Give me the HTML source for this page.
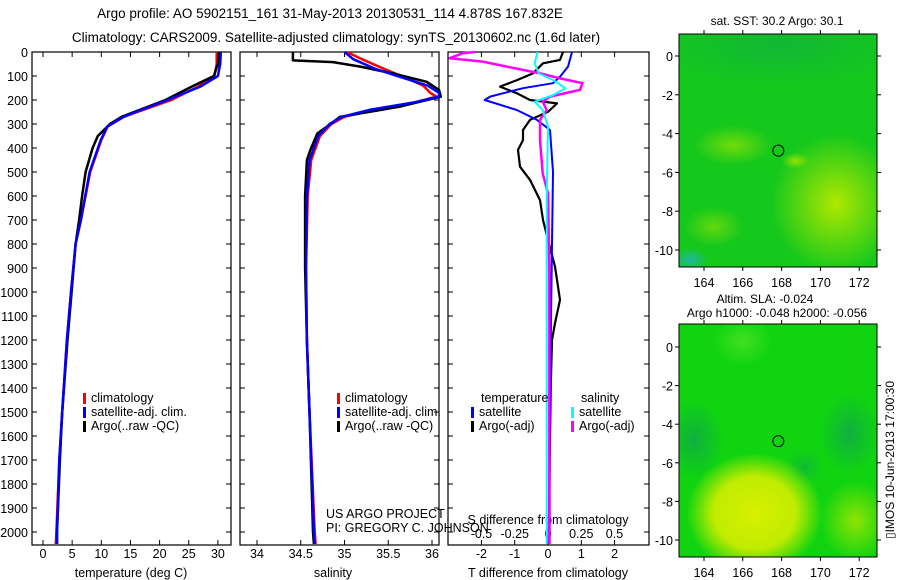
<!DOCTYPE html>
<html><head><meta charset="utf-8">
<style>
html,body{margin:0;padding:0;background:#fff;}
svg{display:block;font-family:"Liberation Sans",sans-serif;}
text{fill:#000;}
</style></head>
<body>
<svg id="chart" width="900" height="580" viewBox="0 0 900 580" xmlns="http://www.w3.org/2000/svg">
<defs>
<radialGradient id="yb1" cx="0.5" cy="0.5" r="0.5"><stop offset="0" stop-color="#d8f000"/><stop offset="0.6" stop-color="#c0ec00"/><stop offset="1" stop-color="#c0ec00" stop-opacity="0"/></radialGradient>
<radialGradient id="yb2" cx="0.5" cy="0.5" r="0.5"><stop offset="0" stop-color="#b0e800"/><stop offset="1" stop-color="#b0e800" stop-opacity="0"/></radialGradient>
<radialGradient id="db" cx="0.5" cy="0.5" r="0.5"><stop offset="0" stop-color="#10b040"/><stop offset="1" stop-color="#10b040" stop-opacity="0"/></radialGradient>
<radialGradient id="lg" cx="0.5" cy="0.5" r="0.5"><stop offset="0" stop-color="#40e020"/><stop offset="1" stop-color="#40e020" stop-opacity="0"/></radialGradient>
<radialGradient id="tl" cx="0.5" cy="0.5" r="0.5"><stop offset="0" stop-color="#20b8a0"/><stop offset="1" stop-color="#20b8a0" stop-opacity="0"/></radialGradient>
</defs>
<text x="330" y="18" font-size="13.5" text-anchor="middle">Argo profile: AO 5902151_161 31-May-2013 20130531_114 4.878S 167.832E</text>
<text x="336" y="42" font-size="13.5" text-anchor="middle">Climatology: CARS2009. Satellite-adjusted climatology: synTS_20130602.nc (1.6d later)</text>
<g id="g1"></g>
<g id="g2"></g>
<g id="g3"></g>
<g id="m1"></g>
<g id="m2"></g>
<text transform="translate(894,460) rotate(-90)" font-size="12" text-anchor="middle">▯IMOS 10-Jun-2013 17:00:30</text>
</svg>
<script>
const tClimD = [0,50,100,144,200,270,311,367,500,700,800,1000,1200,1500,1700,2000,2050];
const tClim  = [29.8,29.8,29.4,26.6,22.0,13.9,11.1,10.0,8.1,6.5,5.6,4.8,4.1,3.3,2.8,2.3,2.2];
const tSat   = [30.5,30.4,30.0,27.0,21.3,13.8,11.0,9.9,8.0,6.5,5.6,4.8,4.1,3.3,2.8,2.4,2.4];
const tArgoD = [0,50,100,144,200,270,300,350,400,500,600,700,800,1000,1200,1500,1700,2000,2050];
const tArgo  = [30.2,30.0,29.3,25.5,21.0,13.5,11.5,9.4,8.5,7.3,6.7,6.2,5.6,4.9,4.2,3.3,2.9,2.4,2.4];

const sArgoD = [0,35,42,61,89,124,158,186,228,270,311,339,408,450,600,900,1200,1500,2000,2050];
const sArgo  = [34.41,34.41,34.87,35.18,35.55,35.94,36.08,36.1,35.63,34.95,34.8,34.69,34.61,34.57,34.55,34.55,34.57,34.6,34.64,34.65];
const sClimD = [0,30,70,100,140,170,186,210,240,270,300,350,450,600,900,1200,1500,2000,2050];
const sClim  = [35.03,35.2,35.45,35.65,35.9,35.98,36.05,35.8,35.35,35.0,34.85,34.72,34.62,34.58,34.56,34.57,34.6,34.66,34.67];
const sSat   = [35.0,35.1,35.35,35.6,35.95,36.08,36.08,35.8,35.3,34.97,34.83,34.7,34.6,34.57,34.56,34.57,34.6,34.65,34.66];

const dTSatD = [0,61,103,130,151,186,200,242,283,325,500,800,1200,1600,2050];
const dTSat  = [0.72,0.6,0.36,0.15,-0.75,-1.74,-1.9,-0.93,-0.33,0.06,0.15,0.12,0.08,0.05,0.05];
const dTArgoD= [0,33,47,89,117,144,172,200,214,249,283,325,367,408,478,533,617,700,783,894,1033,1130,1200,1400,1700,2050];
const dTArgo = [0.45,0.36,-0.15,-0.45,-0.93,-1.44,-0.93,-0.54,0.27,0,-0.54,-0.75,-0.75,-0.9,-0.84,-0.54,-0.24,-0.15,0,0.21,0.36,0.21,0.12,0.08,0.05,0.02];
const dSSatD = [0,47,89,117,151,179,207,242,311,600,1200,2050];
const dSSat  = [-0.08,-0.1,-0.07,0.04,0.13,0.04,-0.1,-0.04,0,-0.01,-0.01,-0.01];
const dSArgoD= [0,5,26,40,61,89,110,130,158,186,207,242,283,367,506,590,900,1500,2050];
const dSArgo = [-0.55,-0.64,-0.74,-0.49,-0.31,-0.06,0.09,0.26,0.24,0.015,-0.04,-0.01,-0.06,-0.06,-0.04,0,0.01,0.01,0.01];

const depthTicks = [0,100,200,300,400,500,600,700,800,900,1000,1100,1200,1300,1400,1500,1600,1700,1800,1900,2000];
const tTicks = [0,5,10,15,20,25,30];
const sTicks = [34,34.5,35,35.5,36];
const sTickLabels = ["34","34.5","35","35.5","36"];
const dtTicks = [-2,-1,0,1,2];
const dsTicks = [-0.5,-0.25,0,0.25,0.5];
const dsTickLabels = ["-0.5","-0.25","0","0.25","0.5"];
const lonTicks = [164,166,168,170,172];
const latTicks = [0,-2,-4,-6,-8,-10];

const NS='http://www.w3.org/2000/svg';
function mk(tag,attrs,parent){const e=document.createElementNS(NS,tag);for(const k in attrs)e.setAttribute(k,attrs[k]);parent.appendChild(e);return e;}
const yD = d => 52 + d*0.24;
const xT = t => 43 + t*5.83;
const xS = s => 257 + (s-34)*87.5;
const xDT = v => 548 + v*33.3;
const xDS = v => 548 + v*133;

function frame(g,x0,x1,name){
  const r=mk('rect',{x:x0,y:52,width:x1-x0,height:493,fill:'none',stroke:'#000','stroke-width':1.2},g);
  
  
  depthTicks.forEach(d=>{
    mk('line',{x1:x0,x2:x0+5,y1:yD(d),y2:yD(d),stroke:'#000'},g);
    mk('line',{x1:x1,x2:x1-5,y1:yD(d),y2:yD(d),stroke:'#000'},g);
  });
}
function xticks(g,vals,labels,fx,y,lab){
  vals.forEach((v,i)=>{
    const x=fx(v);
    mk('line',{x1:x,x2:x,y1:545,y2:540,stroke:'#000'},g);
    mk('line',{x1:x,x2:x,y1:52,y2:57,stroke:'#000'},g);
    const t=mk('text',{x:x,y:y,'font-size':12.5,'text-anchor':'middle'},g);t.textContent=labels[i];
    
    
  });
}
function line(g,ds,vs,fx,color,w,name){
  const p=ds.map((d,i)=>(i?'L':'M')+fx(vs[i]).toFixed(1)+','+yD(d).toFixed(1)).join('');
  const e=mk('path',{d:p,fill:'none',stroke:color,'stroke-width':w,'stroke-linejoin':'round'},g);
  
  
}
function txt(g,x,y,s,name,size,anchor){
  const t=mk('text',{x:x,y:y,'font-size':size||12.5,'text-anchor':anchor||'start'},g);t.textContent=s;
  
  
  return t;
}
function legend(g,x,y,color,label,name){
  mk('rect',{x:x,y:y-9,width:3,height:11,fill:color},g);
  txt(g,x+8,y,label,name);
}

const g1=document.getElementById('g1');
frame(g1,32,231,'temperature-plot-area');
depthTicks.forEach(d=>txt(g1,28,yD(d)+5,String(d),'depth-tick-label',12.5,'end'));
xticks(g1,tTicks,tTicks.map(String),xT,558,'temperature-tick-label');
txt(g1,131,577,'temperature (deg C)','x-axis-title-temperature',12.5,'middle');
line(g1,tClimD,tClim,xT,'#f00',2.5,'temperature-climatology-line');
line(g1,tArgoD,tArgo,xT,'#000',2.5,'temperature-argo-line');
line(g1,tClimD,tSat,xT,'#00f',2.5,'temperature-satellite-line');
legend(g1,83,402,'#f00','climatology','legend-climatology');
legend(g1,83,416,'#00f','satellite-adj. clim.','legend-satellite-adj');
legend(g1,83,430,'#000','Argo(..raw -QC)','legend-argo');

const g2=document.getElementById('g2');
frame(g2,240,439,'salinity-plot-area');
xticks(g2,sTicks,sTickLabels,xS,558,'salinity-tick-label');
txt(g2,333,577,'salinity','x-axis-title-salinity',12.5,'middle');
line(g2,sClimD,sClim,xS,'#f00',2.5,'salinity-climatology-line');
line(g2,sArgoD,sArgo,xS,'#000',2.5,'salinity-argo-line');
line(g2,sClimD,sSat,xS,'#00f',2.5,'salinity-satellite-line');
legend(g2,337,402,'#f00','climatology','legend-climatology');
legend(g2,337,416,'#00f','satellite-adj. clim.','legend-satellite-adj');
legend(g2,337,430,'#000','Argo(..raw -QC)','legend-argo');
txt(g2,326,518,'US ARGO PROJECT','credit-project');
txt(g2,326,532,'PI: GREGORY C. JOHNSON','credit-pi');

const g3=document.getElementById('g3');
frame(g3,448,649,'difference-plot-area');
xticks(g3,dtTicks,dtTicks.map(String),xDT,558,'t-diff-tick-label');
dsTicks.forEach((v,i)=>txt(g3,xDS(v),538,dsTickLabels[i],'s-diff-tick-label',12.5,'middle'));
txt(g3,548,524,'S difference from climatology','x-axis-title-s-diff',12.5,'middle');
txt(g3,548,577,'T difference from climatology','x-axis-title-t-diff',12.5,'middle');
line(g3,dTArgoD,dTArgo,xDT,'#000',2.2,'t-diff-argo-line');
line(g3,dTSatD,dTSat,xDT,'#00f',2,'t-diff-satellite-line');
line(g3,dSArgoD,dSArgo,xDS,'#f0f',2.5,'s-diff-argo-line');
line(g3,dSSatD,dSSat,xDS,'#0ff',2,'s-diff-satellite-line');
txt(g3,481,402,'temperature','legend-temperature-header');
legend(g3,471,416,'#00f','satellite','legend-t-satellite');
legend(g3,471,430,'#000','Argo(-adj)','legend-t-argo');
txt(g3,581,402,'salinity','legend-salinity-header');
legend(g3,571,416,'#0ff','satellite','legend-s-satellite');
legend(g3,571,430,'#f0f','Argo(-adj)','legend-s-argo');

function map(g,y0,y1,lat0y,lat10y,variant){
  const x0=679,x1=877;
  const xL=l=>704+(l-164)*19.4;
  const yL=l=>lat0y+(-l)*(lat10y-lat0y)/10;
  const cp='cp'+variant;
  const c=mk('clipPath',{id:cp},g);mk('rect',{x:x0,y:y0,width:x1-x0,height:y1-y0},c);
  const bg=mk('g',{'clip-path':'url(#'+cp+')'},g);
  if(variant===1){
    mk('rect',{x:x0,y:y0,width:x1-x0,height:y1-y0,fill:'#14c81c'},bg);
    mk('ellipse',{cx:778,cy:y0+12,rx:130,ry:40,fill:'url(#db)',opacity:0.7},bg);
    mk('ellipse',{cx:xL(170.8),cy:yL(-7.6),rx:65,ry:70,fill:'url(#yb2)'},bg);
    mk('ellipse',{cx:xL(165.5),cy:yL(-4.6),rx:40,ry:20,fill:'url(#yb2)',opacity:0.6},bg);
    mk('ellipse',{cx:xL(164.5),cy:yL(-8.8),rx:30,ry:20,fill:'url(#yb2)',opacity:0.5},bg);
    mk('ellipse',{cx:xL(163.3),cy:yL(-10.5),rx:18,ry:12,fill:'url(#tl)'},bg);
    mk('ellipse',{cx:xL(168.7),cy:yL(-5.4),rx:14,ry:8,fill:'url(#yb2)',opacity:0.8},bg);
  } else {
    mk('rect',{x:x0,y:y0,width:x1-x0,height:y1-y0,fill:'#10d410'},bg);
    mk('ellipse',{cx:xL(163.5),cy:yL(-4.8),rx:30,ry:40,fill:'url(#db)'},bg);
    mk('ellipse',{cx:xL(171.5),cy:yL(-4.5),rx:30,ry:40,fill:'url(#db)'},bg);
    mk('ellipse',{cx:xL(169.2),cy:yL(-6.2),rx:18,ry:18,fill:'url(#db)',opacity:0.7},bg);
    mk('ellipse',{cx:xL(166),cy:yL(0.3),rx:30,ry:25,fill:'url(#lg)'},bg);
    mk('ellipse',{cx:xL(171.8),cy:yL(-9),rx:35,ry:40,fill:'url(#yb2)',opacity:0.8},bg);
    mk('ellipse',{cx:xL(166.6),cy:yL(-8.6),rx:68,ry:60,fill:'url(#yb1)'},bg);
  }
  mk('rect',{x:x0,y:y0,width:x1-x0,height:y1-y0,fill:'none',stroke:'#000','stroke-width':1},g);
  mk('circle',{cx:xL(167.83),cy:yL(-4.88),r:5.5,fill:'none',stroke:'#000','stroke-width':1},g);
  lonTicks.forEach(l=>{
    const x=xL(l);
    mk('line',{x1:x,x2:x,y1:y0,y2:y0-4,stroke:'#000'},g);
    mk('line',{x1:x,x2:x,y1:y1,y2:y1+4,stroke:'#000'},g);
    txt(g,x,y1+20,String(l),'longitude-tick-label',12.5,'middle');
  });
  latTicks.forEach(l=>{
    const y=yL(l);
    mk('line',{x1:x0,x2:x0-4,y1:y,y2:y,stroke:'#000'},g);
    mk('line',{x1:x1,x2:x1+4,y1:y,y2:y,stroke:'#000'},g);
    txt(g,673,y+5,String(l),'latitude-tick-label',12.5,'end');
  });
}
const m1=document.getElementById('m1');
txt(m1,777,25,'sat. SST: 30.2 Argo: 30.1','sst-map-title',12,'middle');
map(m1,34,267,56,250,1);
const m2=document.getElementById('m2');
txt(m2,765,303,'Altim. SLA: -0.024','sla-map-title',12,'middle');
txt(m2,777,317,'Argo h1000: -0.048 h2000: -0.056','sla-map-subtitle',12,'middle');
map(m2,324,557,347,540,2);
</script>
</body></html>
